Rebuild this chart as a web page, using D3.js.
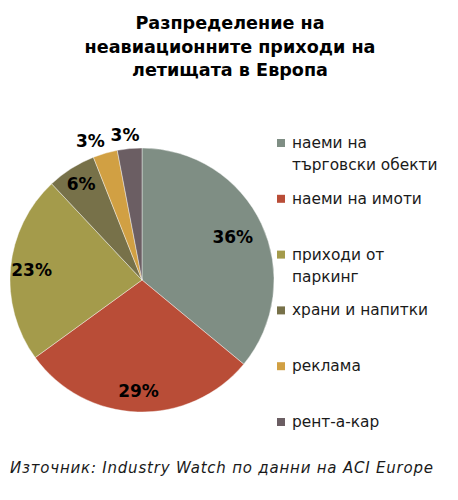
<!DOCTYPE html>
<html><head><meta charset="utf-8">
<script src="https://cdn.jsdelivr.net/npm/d3@7"></script>
<style>
html,body{margin:0;padding:0;background:#fff;}
svg{display:block;}
</style></head>
<body>
<svg id="c" width="458" height="500"></svg>
<script>
const titleLines = ["Разпределение на", "неавиационните приходи на", "летищата в Европа"];
const categories = ["наеми на търговски обекти", "наеми на имоти", "приходи от паркинг", "храни и напитки", "реклама", "рент-а-кар"];
const legendLines = [["наеми на", "търговски обекти"], ["наеми на имоти"], ["приходи от", "паркинг"], ["храни и напитки"], ["реклама"], ["рент-а-кар"]];
const values = [36, 29, 23, 6, 3, 3];
const colors = ["#7f8e84", "#b94d37", "#a49b4b", "#777149", "#d1a043", "#6b5e63"];
const sourceText = "Източник: Industry Watch по данни на ACI Europe";

const font = "'DejaVu Sans', 'Noto Sans', sans-serif";
const svg = d3.select("#c");

// title
svg.append("text")
  .attr("x", 230).attr("y", 29)
  .attr("text-anchor", "middle")
  .style("font-family", font).style("font-weight", "bold").style("font-size", "17.6px")
  .selectAll("tspan").data(titleLines).join("tspan")
  .attr("x", 230).attr("dy", (d, i) => i === 0 ? 0 : 23.5)
  .text(d => d);

// pie
const cx = 142, cy = 280, r = 132;
const pie = d3.pie().sort(null).value(d => d);
const arcs = pie(values);
const arc = d3.arc().innerRadius(0).outerRadius(r);
const g = svg.append("g").attr("transform", `translate(${cx},${cy})`);
g.selectAll("path").data(arcs).join("path")
  .attr("d", arc)
  .attr("fill", (d, i) => colors[i])
  .attr("stroke", "#ffffff").attr("stroke-opacity", 0.5).attr("stroke-width", 0.8);

const labelPos = arcs.map(d => {
  const frac = d.data < 5 ? 1.1 : (d.index === 0 ? 0.76 : (d.index === 3 ? 0.86 : 0.84));
  return d3.arc().innerRadius(r * frac).outerRadius(r * frac).centroid(d);
});
// push apart small outside labels that would overlap
const outside = arcs.filter(d => d.data < 5).map(d => d.index).sort((a, b) => labelPos[b][0] - labelPos[a][0]);
for (let k = 1; k < outside.length; k++) {
  const right = labelPos[outside[k - 1]], left = labelPos[outside[k]];
  const minGap = 38;
  const diff = right[0] - left[0];
  if (diff < minGap) {
    const shift = minGap - diff;
    right[0] -= shift * 0.3;
    left[0] -= shift * 0.7 + shift * 0.3;
  }
}
g.selectAll("text.lbl").data(arcs).join("text")
  .attr("class", "lbl")
  .attr("transform", (d, i) => `translate(${labelPos[i]})`)
  .attr("text-anchor", "middle").attr("dy", "0.35em")
  .style("font-family", font).style("font-weight", "bold").style("font-size", "17px")
  .attr("fill", "#000")
  .text(d => d.data + "%");

// legend
const legendY = d3.scalePoint().domain(d3.range(categories.length)).range([143, 422]);
const lg = svg.append("g");
const items = lg.selectAll("g").data(categories).join("g")
  .attr("transform", (d, i) => `translate(277,${legendY(i)})`);
items.append("rect").attr("x", 0).attr("y", -4).attr("width", 8).attr("height", 8)
  .attr("fill", (d, i) => colors[i]);
items.append("text")
  .style("font-family", font).style("font-size", "15.4px").attr("fill", "#1a1a1a")
  .selectAll("tspan").data((d, i) => legendLines[i]).join("tspan")
  .attr("x", 15).attr("y", (d, j) => 5 + j * 22)
  .text(d => d);

// source
svg.append("text").attr("x", 10).attr("y", 473)
  .style("font-family", font).style("font-style", "italic").style("font-size", "15px")
  .attr("fill", "#1a1a1a")
  .attr("textLength", 423).attr("lengthAdjust", "spacing")
  .text(sourceText);
</script>
</body></html>
